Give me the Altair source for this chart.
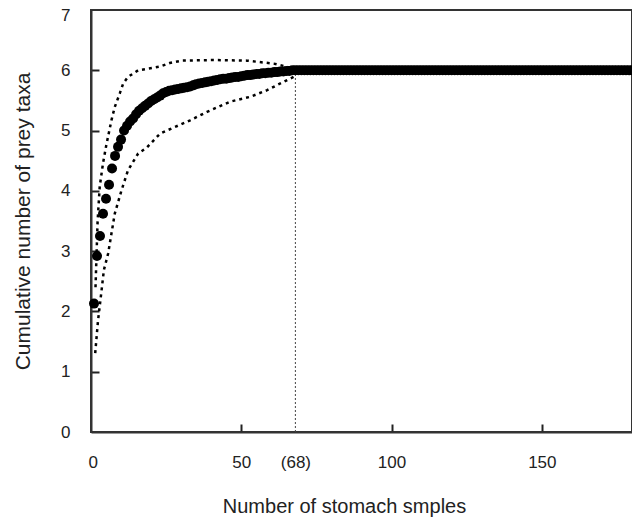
import altair as alt
import pandas as pd

# ---- data ----
samples_early = list(range(1, 69))
taxa_early = [2.13, 2.92, 3.25, 3.62, 3.87, 4.10, 4.37, 4.58, 4.73, 4.85,
              5.00, 5.08, 5.15, 5.20, 5.27, 5.33, 5.37, 5.41, 5.45, 5.49,
              5.52, 5.55, 5.58, 5.62, 5.64, 5.66, 5.67, 5.68, 5.69, 5.70,
              5.71, 5.72, 5.73, 5.75, 5.77, 5.78, 5.79, 5.80, 5.81, 5.82,
              5.83, 5.84, 5.85, 5.86, 5.86, 5.87, 5.88, 5.89, 5.89, 5.90,
              5.91, 5.92, 5.92, 5.93, 5.94, 5.94, 5.95, 5.95, 5.96, 5.96,
              5.97, 5.97, 5.98, 5.98, 5.99, 5.99, 6.00, 6.00]
samples_late = list(range(69, 181))
taxa_late = [6.0] * len(samples_late)

upper_n = [1.5, 2.2, 2.9, 4.0, 5.1, 6.8, 7.9, 9.6, 10.7, 12.3, 15.7, 22.9,
           26.2, 30.1, 40.8, 51.9, 60.8, 65.2, 67.4]
upper_taxa = [2.4, 3.5, 4.07, 4.46, 4.76, 5.17, 5.39, 5.62, 5.78, 5.89, 6.0,
              6.06, 6.12, 6.16, 6.17, 6.16, 6.11, 6.06, 6.01]

lower_n = [1.4, 2.3, 3.4, 4.3, 5.7, 6.8, 7.9, 10.1, 12.3, 15.7, 18.6, 23.0,
           25.2, 33.0, 38.6, 46.3, 53.0, 58.6, 64.1, 67.4, 68.0]
lower_taxa = [1.31, 1.83, 2.3, 2.69, 2.96, 3.29, 3.62, 4.0, 4.34, 4.62, 4.72,
              4.95, 5.0, 5.17, 5.31, 5.48, 5.56, 5.67, 5.81, 5.89, 5.97]

cutoff_n = [68]
cutoff_taxa = [6.0]

x_ticks = [0, 50, 68, 100, 150]
x_tick_marks = [50, 100, 150]
y_ticks = [0, 1, 2, 3, 4, 5, 6]
y_top_tick = [7]
y_tick_marks = [1, 2, 3, 4, 5, 6]

# ---- tables ----
pts = pd.DataFrame({"n": samples_early + samples_late,
                    "taxa": taxa_early + taxa_late})
bands = pd.concat([
    pd.DataFrame({"n": upper_n, "taxa": upper_taxa, "band": "upper",
                  "i": range(len(upper_n))}),
    pd.DataFrame({"n": lower_n, "taxa": lower_taxa, "band": "lower",
                  "i": range(len(lower_n))}),
])
cut = pd.DataFrame({"n": cutoff_n, "y0": [0] * len(cutoff_n), "taxa": cutoff_taxa})

xs = alt.Scale(domain=[0, 180], nice=False, zero=False)
ys = alt.Scale(domain=[0, 7], nice=False)

FONT = "Liberation Sans"
TXT = "#222"
TICK = "#222"

x_main = alt.Axis(values=x_ticks, orient="bottom",
                  labelExpr="datum.value == 68 ? '(68)' : datum.label",
                  ticks=False, grid=False, domainColor="#333", domainWidth=2,
                  labelFontSize=17, labelPadding=22, labelColor=TXT,
                  labelFlush=True, labelFlushOffset=3,
                  title="Number of stomach smples", titleFontSize=20,
                  titleFontWeight="normal", titlePadding=26, titleColor=TXT,
                  titleX=253)
y_main = alt.Axis(values=y_ticks, orient="left", ticks=False, grid=False,
                  domainColor="#333", domainWidth=2, labelFlush=False,
                  labelFontSize=17, labelPadding=21, labelColor=TXT,
                  title="Cumulative number of prey taxa", titleFontSize=21,
                  titleFontWeight="normal", titlePadding=27, titleColor=TXT)

x_ticks_axis = alt.Axis(values=x_tick_marks, orient="bottom", labels=False,
                        domain=False, grid=False, tickSize=8, offset=-8,
                        tickColor=TICK, tickWidth=2, title=None)
y_ticks_axis = alt.Axis(values=y_tick_marks, orient="left", labels=False,
                        domain=False, grid=False, tickSize=8, offset=-8,
                        tickColor=TICK, tickWidth=2, title=None)

x_blank = alt.Axis(values=x_tick_marks, orient="bottom", labels=False,
                   domain=False, ticks=False, grid=False, title=None)
y_top_axis = alt.Axis(values=y_top_tick, orient="left", ticks=False, grid=False,
                      domain=False, labelFontSize=17, labelPadding=21,
                      labelColor=TXT, labelFlush=False, labelOffset=5,
                      title=None)

rule = alt.Chart(cut).mark_rule(color="#444", strokeWidth=1, strokeDash=[2, 2]).encode(
    x=alt.X("n:Q", scale=xs, axis=x_ticks_axis),
    y=alt.Y("y0:Q", scale=ys, axis=y_ticks_axis),
    y2="taxa:Q",
)

lines = alt.Chart(bands).mark_line(color="black", strokeWidth=2.5,
                                   strokeDash=[3, 4]).encode(
    x=alt.X("n:Q", scale=xs, axis=x_main),
    y=alt.Y("taxa:Q", scale=ys, axis=y_main),
    detail="band:N",
    order="i:Q",
)

points = alt.Chart(pts).mark_circle(size=100, color="black", opacity=1).encode(
    x=alt.X("n:Q", scale=xs, axis=x_blank),
    y=alt.Y("taxa:Q", scale=ys, axis=y_top_axis),
)

chart = alt.layer(rule, lines, points).resolve_axis(
    x="independent", y="independent"
).properties(
    width=541, height=422, autosize="none",
    padding={"left": 83, "top": 2, "right": 0, "bottom": 88},
).configure_view(
    stroke="#333", strokeWidth=2
).configure_axis(
    labelFont=FONT, titleFont=FONT
)

chart.save("out.html", embed_options={"renderer": "svg", "actions": False})
